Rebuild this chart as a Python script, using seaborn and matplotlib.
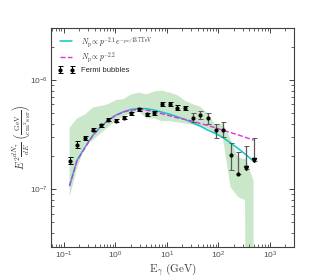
import numpy as np
import matplotlib
matplotlib.use("Agg")
import matplotlib.pyplot as plt
import seaborn as sns

# ---------------------------
# DATA
# ---------------------------
energy = [0.129, 0.18, 0.26, 0.366, 0.515, 0.73, 1.02, 1.44, 2.03, 2.86, 4.03, 5.67,
          8.0, 11.3, 15.9, 22.4, 31.5, 44.4, 62.5, 88.0, 122.0, 172.0, 243.0, 342.0, 482.0]
flux = [1.83e-7, 2.57e-7, 2.92e-7, 3.52e-7, 3.84e-7, 4.35e-7, 4.23e-7, 4.54e-7, 4.94e-7,
        5.38e-7, 4.84e-7, 4.98e-7, 6.07e-7, 6.07e-7, 5.57e-7, 5.53e-7, 4.54e-7, 4.81e-7,
        4.48e-7, 3.47e-7, 3.52e-7, 2.08e-7, 1.39e-7, 1.55e-7, 1.81e-7]
flux_hi = [1.98e-7, 2.75e-7, 3.05e-7, 3.65e-7, 3.97e-7, 4.5e-7, 4.38e-7, 4.7e-7, 5.12e-7,
           5.56e-7, 5.02e-7, 5.17e-7, 6.35e-7, 6.35e-7, 5.85e-7, 5.8e-7, 4.95e-7, 5.25e-7,
           4.95e-7, 4.0e-7, 4.1e-7, 2.63e-7, 2.2e-7, 2.5e-7, 2.92e-7]
flux_lo = [1.7e-7, 2.4e-7, 2.8e-7, 3.4e-7, 3.72e-7, 4.2e-7, 4.1e-7, 4.4e-7, 4.78e-7,
           5.2e-7, 4.68e-7, 4.8e-7, 5.8e-7, 5.8e-7, 5.3e-7, 5.28e-7, 4.15e-7, 4.4e-7,
           4.0e-7, 2.95e-7, 3.0e-7, 1.52e-7, 1.39e-7, 1.55e-7, 1.81e-7]
upper_limit = [False] * 23 + [True, True]

cutoff_model = [1.09e-7, 1.85e-7, 2.44e-7, 3.13e-7, 3.73e-7, 4.30e-7, 4.77e-7, 5.12e-7,
                5.38e-7, 5.50e-7, 5.46e-7, 5.31e-7, 5.08e-7, 4.87e-7, 4.61e-7, 4.36e-7,
                4.06e-7, 3.79e-7, 3.48e-7, 3.24e-7, 2.98e-7, 2.66e-7, 2.36e-7, 2.08e-7, 1.81e-7]
power_model = [1.07e-7, 1.83e-7, 2.42e-7, 3.11e-7, 3.71e-7, 4.28e-7, 4.75e-7, 5.10e-7,
               5.30e-7, 5.38e-7, 5.31e-7, 5.12e-7, 4.91e-7, 4.71e-7, 4.51e-7, 4.36e-7,
               4.21e-7, 4.00e-7, 3.84e-7, 3.65e-7, 3.48e-7, 3.31e-7, 3.15e-7, 2.98e-7, 2.82e-7]

band_e = [0.129, 0.18, 0.26, 0.366, 0.515, 0.73, 1.02, 1.44, 2.03, 2.86, 4.03, 5.67,
          8.0, 11.3, 15.9, 22.4, 31.5, 44.4, 62.5, 88.0, 122.0, 172.0, 243.0, 330.0, 342.0, 482.0]
band_hi = [3.66e-7, 4.45e-7, 4.84e-7, 5.61e-7, 5.77e-7, 6.02e-7, 6.55e-7, 6.69e-7, 7.39e-7,
           7.65e-7, 7.39e-7, 7.87e-7, 7.98e-7, 7.65e-7, 7.28e-7, 6.46e-7, 6.02e-7, 5.69e-7,
           4.94e-7, 3.86e-7, 4.0e-7, 2.9e-7, 1.95e-7, 1.9e-7, 1.9e-7, 1.2e-7]
band_lo = [8.5e-8, 1.55e-7, 2.53e-7, 2.82e-7, 3.24e-7, 3.73e-7, 4.24e-7, 4.68e-7, 4.94e-7,
           5.12e-7, 4.45e-7, 4.45e-7, 4.2e-7, 4.2e-7, 4.1e-7, 4.0e-7, 3.9e-7, 3.75e-7,
           3.6e-7, 3.2e-7, 3.0e-7, 1.05e-7, 8.5e-8, 8.0e-8, 1e-9, 1e-9]

# ---------------------------
# PLOT
# ---------------------------
sns.set_style("ticks")
plt.rcParams["mathtext.fontset"] = "cm"
plt.rcParams["font.family"] = ["Liberation Sans", "DejaVu Sans"]

fig = plt.figure(figsize=(3.2, 2.8), dpi=100)
ax = fig.add_axes([0.159, 0.119, 0.760, 0.782])

ax.fill_between(band_e, band_lo, band_hi, color="tab:green", alpha=0.25, lw=0)

sns.lineplot(x=energy, y=cutoff_model, color="#10c4c4", lw=1.1, ax=ax,
             label=r"$N_{\rm p}\propto p^{-2.1}e^{-pc/13.7{\rm TeV}}$")
sns.lineplot(x=energy, y=power_model, color="#e030e0", lw=1.0, ls="--", dashes=(4, 3), ax=ax,
             label=r"$N_{\rm p}\propto p^{-2.2}$")

e = np.array(energy)
f = np.array(flux)
yerr = np.array([f - np.array(flux_lo), np.array(flux_hi) - f])
lim = np.array(upper_limit)
det = ~lim
dark = det & (e < 25)
pale = det & (e >= 25)

ax.errorbar(e[dark], f[dark], yerr=yerr[:, dark], fmt="o", ms=2, color="k",
            ecolor="k", elinewidth=0.7, capsize=1.8, capthick=0.7, label="Fermi bubbles")
ax.errorbar(e[pale], f[pale], yerr=yerr[:, pale], fmt="o", ms=2, color="k",
            ecolor="0.35", elinewidth=0.9, capsize=1.8, capthick=0.7)
ax.errorbar(e[lim], f[lim], yerr=yerr[:, lim], fmt="none", ecolor="0.35",
            elinewidth=0.9, capsize=1.8, capthick=0.7)
ax.plot(e[lim], f[lim] * 1.02, "v", color="k", ms=3)

ax.set_xscale("log")
ax.set_yscale("log")
ax.set_xlim(0.056, 2950)
ax.set_ylim(3e-8, 3e-6)

ax.tick_params(which="both", direction="in", top=True, right=True, labelsize=6,
               labelcolor="0.3", pad=2.5)
ax.tick_params(which="major", length=3.5, width=0.6)
ax.tick_params(which="minor", length=2, width=0.5)
for s in ax.spines.values():
    s.set_linewidth(0.8)
    s.set_color("0.25")

ax.set_xlabel(r"$\mathrm{E_\gamma\ (GeV)}$", fontsize=8, labelpad=0, color="0.25")
ax.set_ylabel(r"$E^2\frac{dN_\gamma}{dE}\ \left(\frac{\rm GeV}{\rm cm^2s\,sr}\right)$",
              fontsize=7.5, color="0.2")
ax.yaxis.set_label_coords(-0.075, 0.5)

handles, labels = ax.get_legend_handles_labels()
ax.legend(handles, labels, loc="upper left", frameon=False, fontsize=5.5, numpoints=2,
          handlelength=2.2, borderaxespad=0.5, labelspacing=0.25)

fig.savefig("out.png", dpi=100)
